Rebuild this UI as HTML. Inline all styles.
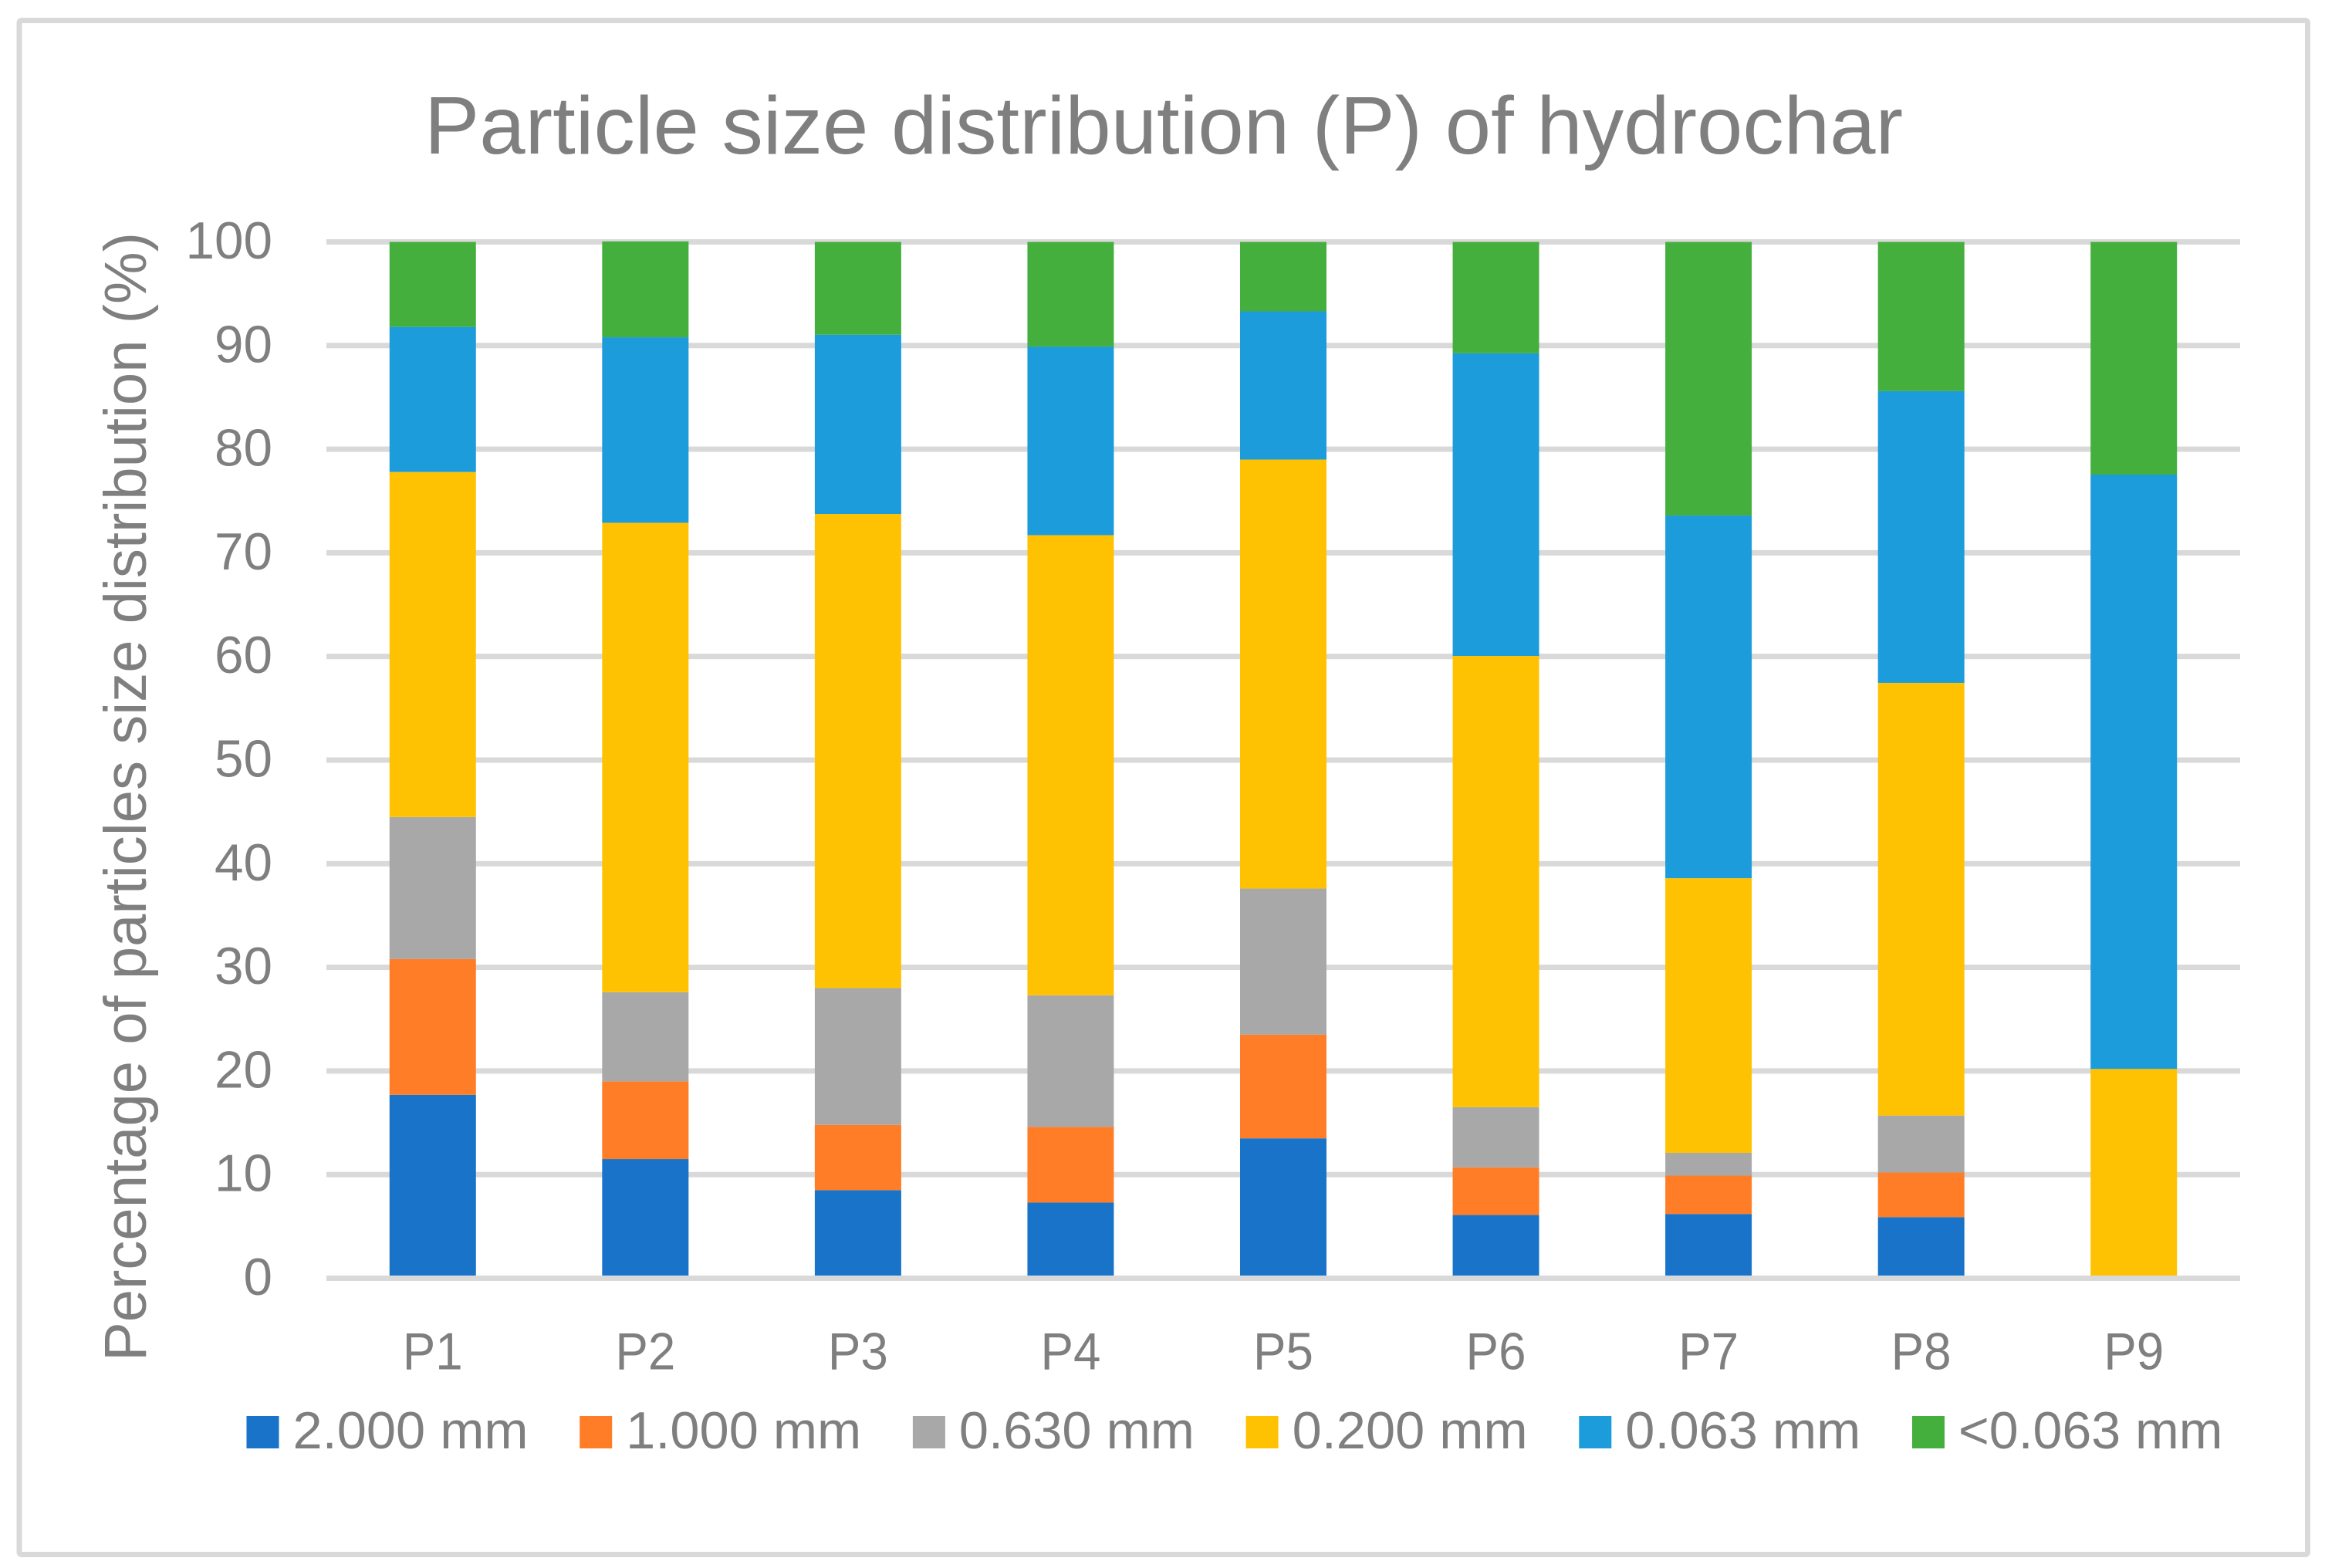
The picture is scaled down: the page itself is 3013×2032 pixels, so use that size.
<!DOCTYPE html>
<html lang="en">
<head>
<meta charset="utf-8">
<title>Particle size distribution (P) of hydrochar</title>
<style>
html,body{margin:0;padding:0;background:#fff;}
svg{display:block;}
text{font-family:"Liberation Sans",sans-serif;fill:#7f7f7f;}
</style>
</head>
<body>
<svg id="chart" xmlns="http://www.w3.org/2000/svg" width="3013" height="2032" viewBox="0 0 3013 2032">
  <rect x="0" y="0" width="3013" height="2032" fill="#ffffff"/>
  <rect x="25" y="26.5" width="2965.5" height="1988" rx="3" fill="none" stroke="#d9d9d9" stroke-width="7"/>
  <text x="550" y="199" font-size="106" textLength="1916" lengthAdjust="spacingAndGlyphs">Particle size distribution (P) of hydrochar</text>
  <text transform="translate(189 1764) rotate(-90)" font-size="77" textLength="1463" lengthAdjust="spacingAndGlyphs">Percentage of particles size distribution (%)</text>
  <g id="gridlines"></g>
  <g id="bars"></g>
  <g id="axis"></g>
  <g id="yticks"></g>
  <g id="xticks"></g>
  <g id="legend"></g>
</svg>
<script>
const categories = ["P1","P2","P3","P4","P5","P6","P7","P8","P9"];
const seriesNames = ["2.000 mm","1.000 mm","0.630 mm","0.200 mm","0.063 mm","<0.063 mm"];
const seriesColors = ["#1873c9","#ff7d26","#a8a8a8","#ffc203","#1c9cda","#45af3e"];
const yTicks = [0,10,20,30,40,50,60,70,80,90,100];
const s2000 = [17.7,11.5,8.5,7.3,13.5,6.1,6.2,5.9,0];
const s1000 = [13.1,7.5,6.3,7.3,10.0,4.6,3.7,4.3,0];
const s0630 = [13.7,8.6,13.2,12.7,14.1,5.8,2.2,5.5,0];
const s0200 = [33.3,45.3,45.75,44.4,41.4,43.55,26.5,41.75,20.2];
const s0063 = [14.0,17.9,17.3,18.2,14.3,29.2,35.0,28.15,57.35];
const sFine = [8.2,9.25,8.95,10.1,6.7,10.75,26.4,14.4,22.45];
const seriesValues = [s2000,s1000,s0630,s0200,s0063,sFine];

const NS = "http://www.w3.org/2000/svg";
const plot = {left:423,right:2903,zero:1656.5,top:313.5,max:100};
const catW = (plot.right-plot.left)/categories.length;
const barW = 112;
function yScale(v){return plot.zero-(plot.zero-plot.top)*v/plot.max;}
function xCenter(i){return plot.left+catW*(i+0.5);}
function mk(tag,parent){const e=document.createElementNS(NS,tag);parent.appendChild(e);return e;}
function slug(s){return s.replace("<","under-").replace(/[ .]/g,"-");}

const gridG=document.getElementById("gridlines");
const barsG=document.getElementById("bars");
const axisG=document.getElementById("axis");
const yG=document.getElementById("yticks");
const xG=document.getElementById("xticks");
const legG=document.getElementById("legend");

yTicks.forEach(function(t){
  if(t!==0){
    const g=mk("rect",gridG);
    
    
    g.setAttribute("x",plot.left);
    g.setAttribute("y",yScale(t)-3.5);
    g.setAttribute("width",plot.right-plot.left);
    g.setAttribute("height",7);
    g.setAttribute("fill","#d9d9d9");
  }
  const l=mk("text",yG);
  
  
  const s=String(t);
  l.setAttribute("x",353);
  l.setAttribute("y",yScale(t)+21.5);
  l.setAttribute("font-size",68);
  l.setAttribute("text-anchor","end");
  l.setAttribute("textLength",s.length*37.5);
  l.setAttribute("lengthAdjust","spacingAndGlyphs");
  l.textContent=s;
});

categories.forEach(function(c,i){
  let acc=0;
  seriesValues.forEach(function(vals,k){
    const v=vals[i];
    const r=mk("rect",barsG);
    
    
    r.setAttribute("x",xCenter(i)-barW/2);
    r.setAttribute("y",yScale(acc+v));
    r.setAttribute("width",barW);
    r.setAttribute("height",yScale(acc)-yScale(acc+v));
    r.setAttribute("fill",seriesColors[k]);
    acc+=v;
  });
  const t=mk("text",xG);
  
  
  t.setAttribute("x",xCenter(i));
  t.setAttribute("y",1774.5);
  t.setAttribute("font-size",68);
  t.setAttribute("text-anchor","middle");
  t.setAttribute("textLength",78);
  t.setAttribute("lengthAdjust","spacingAndGlyphs");
  t.textContent=c;
});

const ax=mk("rect",axisG);


ax.setAttribute("x",plot.left);
ax.setAttribute("y",plot.zero-3.5);
ax.setAttribute("width",plot.right-plot.left);
ax.setAttribute("height",7);
ax.setAttribute("fill","#d9d9d9");

seriesNames.forEach(function(n,i){
  const x=319.5+431.7*i;
  const sw=mk("rect",legG);
  
  
  sw.setAttribute("x",x);
  sw.setAttribute("y",1835);
  sw.setAttribute("width",42);
  sw.setAttribute("height",42);
  sw.setAttribute("fill",seriesColors[i]);
  const t=mk("text",legG);
  
  
  t.setAttribute("x",x+60);
  t.setAttribute("y",1877);
  t.setAttribute("font-size",68);
  t.setAttribute("textLength",n.length*37.5+5);
  t.setAttribute("lengthAdjust","spacingAndGlyphs");
  t.textContent=n;
});
</script>
</body>
</html>
